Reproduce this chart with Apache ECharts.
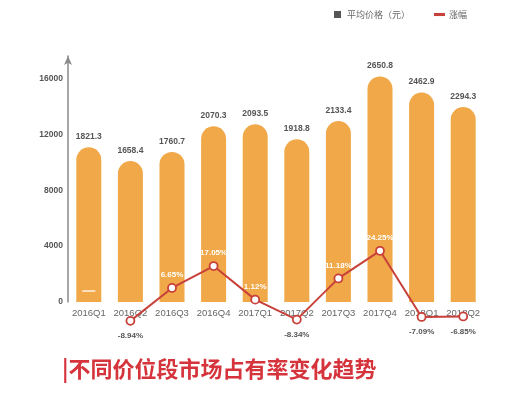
<!DOCTYPE html>
<html>
<head>
<meta charset="utf-8">
<script src="https://cdn.jsdelivr.net/npm/echarts@6/dist/echarts.min.js"></script>
<style>
html,body{margin:0;padding:0;background:#fff;}
#chart{width:530px;height:393px;}
</style>
</head>
<body>
<div id="chart"></div>
<script>
const categories = ['2016Q1','2016Q2','2016Q3','2016Q4','2017Q1','2017Q2','2017Q3','2017Q4','2018Q1','2018Q2'];
// bar heights as read on the left axis
const barHeights = [11070, 10090, 10740, 12570, 12710, 11640, 12950, 16140, 14980, 13950];
// printed average price labels
const priceLabels = ['1821.3','1658.4','1760.7','2070.3','2093.5','1918.8','2133.4','2650.8','2462.9','2294.3'];
// change (%)
const changePct = [null, -8.94, 6.65, 17.05, 1.12, -8.34, 11.18, 24.25, -7.09, -6.85];
// small white dash drawn in the first bar (on the % scale)
const firstDash = [5.2, null, null, null, null, null, null, null, null, null];
const yTicks = [0, 4000, 8000, 12000, 16000];
const titleText = '|不同价位段市场占有率变化趋势';
const barName = '平均价格（元）';
const lineName = '涨幅';

const numFont = '"Liberation Sans Narrow","Liberation Sans",Arial,sans-serif';
const cjkFont = '"Noto Sans CJK SC","Noto Sans",sans-serif';

const chart = echarts.init(document.getElementById('chart'), null, {renderer:'canvas'});

const lineData = changePct.map(v => v === null ? '-' : {
  value: v,
  label: {
    position: v < 0 ? 'bottom' : 'top',
    distance: v < 0 ? 6 : 4,
    color: v < 0 ? '#555' : '#fff'
  }
});

chart.setOption({
  animation: false,
  backgroundColor: '#fff',
  title: {
    text: titleText,
    left: 57,
    top: 353,
    textStyle: {color:'#d6343c', fontSize:22, fontWeight:'bold', fontFamily: cjkFont}
  },
  legend: {
    left: 329,
    top: 5,
    itemWidth: 9,
    itemHeight: 7,
    itemGap: 24,
    textStyle: {color:'#666', fontSize:9, fontFamily: cjkFont},
    data: [
      {name: barName, icon: 'path://M0,0h10v10h-10z', itemStyle: {color:'#555'}},
      {name: lineName, icon: 'path://M0,0h20v2.4h-20z', itemStyle: {color:'#c8403a'}}
    ]
  },
  grid: {left: 68, right: 46, top: 56, bottom: 91},
  xAxis: {
    type: 'category',
    data: categories,
    axisLine: {show:false},
    axisTick: {show:false},
    axisLabel: {color:'#666', fontSize:9.5, margin:6, fontFamily:'"Liberation Sans",Arial,sans-serif', interval:0}
  },
  yAxis: [{
    type: 'value',
    min: 0,
    max: 17600,
    interval: 4000,
    splitLine: {show:false},
    axisTick: {show:false},
    axisLine: {show:true, symbol:['none','arrow'], symbolSize:[6,9], lineStyle:{color:'#8a8a8a', width:1.5}},
    axisLabel: {
      color:'#555', fontSize:8.5, fontWeight:'bold', fontFamily: numFont, margin:5,
      formatter: v => yTicks.indexOf(Math.round(v)) >= 0 ? String(Math.round(v)) : ''
    }
  }, {
    type: 'value',
    min: 0,
    max: 116.6,
    show: false,
    splitLine: {show:false}
  }],
  series: [{
    name: barName,
    type: 'bar',
    data: barHeights,
    barWidth: 25,
    itemStyle: {color:'#f0a848', borderRadius:[12.5,12.5,0,0]},
    label: {
      show: true,
      position: 'top',
      distance: 6,
      color: '#555',
      fontSize: 8.5,
      fontWeight: 'bold',
      fontFamily: numFont,
      formatter: p => priceLabels[p.dataIndex]
    }
  }, {
    name: lineName,
    type: 'line',
    yAxisIndex: 1,
    data: lineData,
    clip: false,
    symbol: 'circle',
    symbolSize: 8,
    lineStyle: {color:'#c8403a', width:2},
    itemStyle: {color:'#fff', borderColor:'#c8403a', borderWidth:1.8},
    label: {
      show: true,
      fontSize: 8,
      fontWeight: 'bold',
      fontFamily: numFont,
      formatter: p => p.value + '%'
    },
    z: 5
  }, {
    name: 'dash',
    type: 'scatter',
    yAxisIndex: 1,
    data: firstDash.map(v => v === null ? '-' : v),
    symbol: 'rect',
    symbolSize: [13, 1.6],
    itemStyle: {color:'#fff'},
    z: 6
  }]
});
</script>
</body>
</html>
